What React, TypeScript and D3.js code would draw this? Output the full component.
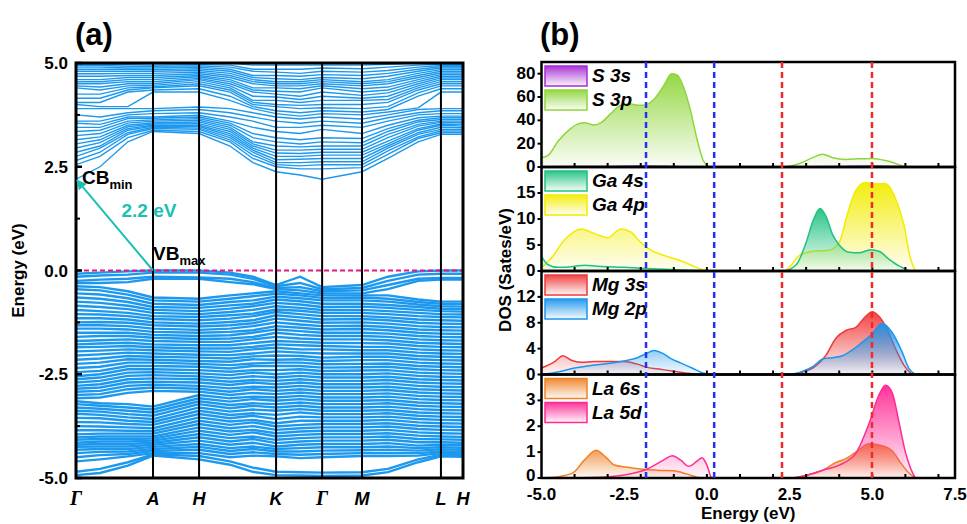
import React from 'react';
import * as d3 from 'd3';

// ---------------- Panel (a): band structure data ----------------
const kPath = [0, 0.062, 0.134, 0.199, 0.318, 0.398, 0.457, 0.517, 0.579, 0.636, 0.739, 0.806, 0.884, 0.943, 1.0];
const kTickPos = [0, 0.199, 0.318, 0.517, 0.636, 0.739, 0.943, 1.0];
const kTickLabels = ['Γ', 'A', 'H', 'K', 'Γ', 'M', 'L', 'H'];
const energyTicksA = [-5, -2.5, 0, 2.5, 5];
const energyMinorTicksA = [-3.75, -1.25, 1.25, 3.75];
const bandGap = 2.2;
const cbmK = 0;
const vbmK = 0.199;

// conduction-band eigenvalues (eV) at each k-point, ascending
const conductionBands: number[][] = [
  [2.2, 2.55, 2.65, 2.75, 2.85, 2.95, 3.05, 3.15, 3.25, 3.35, 3.45, 3.55, 3.6, 3.75, 3.9, 4.0, 4.05, 4.15, 4.25, 4.4, 4.45, 4.5, 4.55, 4.6, 4.68, 4.74, 4.8, 4.85, 4.9, 4.94, 4.97, 5.02],
  [2.5, 2.75, 2.85, 2.95, 3.0, 3.08, 3.15, 3.22, 3.3, 3.38, 3.45, 3.52, 3.6, 3.7, 3.9, 3.95, 4.05, 4.15, 4.25, 4.35, 4.42, 4.5, 4.55, 4.6, 4.68, 4.74, 4.8, 4.85, 4.9, 4.94, 4.97, 5.02],
  [3.1, 3.2, 3.28, 3.32, 3.38, 3.42, 3.46, 3.5, 3.55, 3.6, 3.66, 3.7, 3.75, 3.8, 3.9, 3.95, 4.3, 4.35, 4.4, 4.45, 4.5, 4.55, 4.6, 4.65, 4.7, 4.75, 4.8, 4.85, 4.88, 4.92, 4.96, 5.02],
  [3.35, 3.38, 3.42, 3.45, 3.48, 3.5, 3.53, 3.56, 3.6, 3.63, 3.67, 3.7, 3.78, 3.85, 3.9, 4.3, 4.35, 4.4, 4.42, 4.46, 4.5, 4.55, 4.6, 4.65, 4.7, 4.75, 4.8, 4.84, 4.88, 4.92, 4.95, 5.0],
  [3.3, 3.35, 3.4, 3.43, 3.47, 3.5, 3.54, 3.58, 3.62, 3.66, 3.7, 3.74, 3.8, 3.88, 3.94, 4.3, 4.38, 4.45, 4.5, 4.55, 4.6, 4.63, 4.67, 4.7, 4.74, 4.78, 4.82, 4.86, 4.9, 4.93, 4.96, 5.0],
  [3.0, 3.1, 3.15, 3.2, 3.25, 3.3, 3.35, 3.4, 3.45, 3.5, 3.55, 3.6, 3.7, 3.8, 3.9, 4.1, 4.2, 4.3, 4.35, 4.4, 4.45, 4.5, 4.55, 4.6, 4.65, 4.7, 4.75, 4.8, 4.85, 4.9, 4.95, 5.0],
  [2.6, 2.7, 2.78, 2.85, 2.9, 2.95, 3.0, 3.05, 3.1, 3.2, 3.3, 3.45, 3.6, 3.7, 3.8, 3.9, 3.95, 4.0, 4.05, 4.1, 4.2, 4.3, 4.35, 4.4, 4.5, 4.55, 4.6, 4.65, 4.7, 4.8, 4.85, 4.95],
  [2.38, 2.5, 2.55, 2.6, 2.67, 2.75, 2.83, 2.9, 3.0, 3.1, 3.2, 3.35, 3.45, 3.6, 3.7, 3.78, 3.85, 3.95, 4.0, 4.1, 4.18, 4.25, 4.32, 4.4, 4.45, 4.5, 4.55, 4.62, 4.7, 4.78, 4.85, 4.95],
  [2.3, 2.45, 2.52, 2.6, 2.68, 2.75, 2.82, 2.9, 2.98, 3.05, 3.15, 3.3, 3.45, 3.55, 3.65, 3.72, 3.8, 3.9, 3.98, 4.05, 4.12, 4.2, 4.3, 4.38, 4.45, 4.5, 4.55, 4.6, 4.68, 4.75, 4.85, 4.95],
  [2.2, 2.45, 2.55, 2.62, 2.7, 2.78, 2.85, 2.92, 3.0, 3.1, 3.2, 3.4, 3.5, 3.6, 3.7, 3.78, 3.85, 3.92, 4.0, 4.1, 4.2, 4.3, 4.4, 4.45, 4.5, 4.55, 4.6, 4.65, 4.72, 4.8, 4.88, 4.95],
  [2.38, 2.48, 2.55, 2.62, 2.7, 2.78, 2.85, 2.92, 3.0, 3.08, 3.18, 3.3, 3.45, 3.55, 3.65, 3.75, 3.82, 3.9, 4.0, 4.1, 4.15, 4.22, 4.3, 4.38, 4.45, 4.5, 4.55, 4.62, 4.7, 4.78, 4.86, 4.95],
  [2.7, 2.8, 2.88, 2.95, 3.0, 3.05, 3.12, 3.2, 3.28, 3.35, 3.42, 3.5, 3.6, 3.68, 3.75, 3.82, 3.88, 3.95, 4.05, 4.12, 4.2, 4.28, 4.35, 4.42, 4.5, 4.55, 4.6, 4.68, 4.75, 4.82, 4.9, 4.97],
  [3.1, 3.18, 3.22, 3.28, 3.32, 3.38, 3.42, 3.48, 3.52, 3.58, 3.62, 3.68, 3.75, 3.8, 3.88, 3.92, 4.2, 4.28, 4.35, 4.4, 4.45, 4.5, 4.55, 4.6, 4.65, 4.7, 4.75, 4.8, 4.85, 4.9, 4.95, 5.0],
  [3.28, 3.32, 3.36, 3.4, 3.45, 3.5, 3.53, 3.57, 3.6, 3.64, 3.68, 3.72, 3.78, 3.85, 3.9, 4.3, 4.38, 4.45, 4.5, 4.55, 4.6, 4.64, 4.68, 4.72, 4.76, 4.8, 4.84, 4.88, 4.91, 4.94, 4.97, 5.0],
  [3.28, 3.32, 3.36, 3.4, 3.44, 3.48, 3.52, 3.56, 3.6, 3.64, 3.68, 3.72, 3.78, 3.85, 3.9, 4.3, 4.38, 4.45, 4.5, 4.55, 4.6, 4.64, 4.68, 4.72, 4.76, 4.8, 4.84, 4.88, 4.91, 4.94, 4.97, 5.0],
];

// topmost valence bands (eV) at each k-point
const valenceTop: number[][] = [
  [-0.08, -0.15, -0.25, -0.3],
  [-0.05, -0.12, -0.22, -0.3],
  [-0.02, -0.1, -0.2, -0.28],
  [0, -0.05, -0.15, -0.2],
  [0, -0.05, -0.17, -0.2],
  [-0.05, -0.1, -0.2, -0.28],
  [-0.15, -0.2, -0.28, -0.33],
  [-0.35, -0.38, -0.42, -0.45],
  [-0.15, -0.3, -0.4, -0.48],
  [-0.4, -0.45, -0.5, -0.55],
  [-0.35, -0.42, -0.48, -0.55],
  [-0.15, -0.25, -0.35, -0.45],
  [-0.02, -0.1, -0.2, -0.25],
  [0, -0.08, -0.18, -0.22],
  [0, -0.08, -0.18, -0.22],
];

// deeper valence bands (eV) at each k-point
const valenceBands: number[][] = [
  [-0.38, -0.45, -0.55, -0.65, -0.75, -0.85, -0.95, -1.05, -1.15, -1.25, -1.32, -1.4, -1.5, -1.6, -1.7, -1.78, -1.85, -1.95, -2.05, -2.15, -2.25, -2.35, -2.45, -2.55, -2.62, -2.7, -2.78, -2.85, -2.92, -3.0, -3.08, -3.15, -3.22, -3.3, -3.38, -3.45, -3.55, -3.65, -3.75, -3.85, -3.95, -4.02, -4.08, -4.15, -4.2, -4.25, -4.32, -4.4, -4.5, -4.6, -4.85, -4.93],
  [-0.4, -0.48, -0.58, -0.68, -0.78, -0.88, -0.98, -1.06, -1.15, -1.24, -1.32, -1.4, -1.5, -1.58, -1.68, -1.76, -1.84, -1.93, -2.02, -2.12, -2.22, -2.32, -2.42, -2.5, -2.58, -2.66, -2.74, -2.82, -2.9, -2.98, -3.06, -3.2, -3.26, -3.33, -3.4, -3.48, -3.56, -3.66, -3.76, -3.85, -3.93, -4.0, -4.06, -4.12, -4.18, -4.24, -4.3, -4.37, -4.45, -4.55, -4.78, -4.88],
  [-0.5, -0.58, -0.67, -0.76, -0.85, -0.93, -1.02, -1.1, -1.18, -1.26, -1.34, -1.42, -1.5, -1.58, -1.66, -1.74, -1.82, -1.9, -1.98, -2.06, -2.14, -2.22, -2.3, -2.38, -2.46, -2.54, -2.62, -2.7, -2.78, -2.86, -2.95, -3.22, -3.3, -3.38, -3.46, -3.54, -3.62, -3.7, -3.78, -3.86, -3.93, -4.0, -4.06, -4.12, -4.18, -4.24, -4.3, -4.36, -4.42, -4.48, -4.62, -4.7],
  [-0.65, -0.72, -0.8, -0.88, -0.95, -1.02, -1.1, -1.17, -1.25, -1.32, -1.4, -1.48, -1.55, -1.62, -1.7, -1.78, -1.85, -1.92, -2.0, -2.08, -2.15, -2.22, -2.3, -2.38, -2.45, -2.52, -2.6, -2.68, -2.75, -2.82, -2.9, -3.28, -3.35, -3.42, -3.5, -3.58, -3.65, -3.72, -3.8, -3.87, -3.93, -4.0, -4.05, -4.1, -4.15, -4.2, -4.25, -4.3, -4.35, -4.4, -4.43, -4.46],
  [-0.68, -0.75, -0.83, -0.9, -0.98, -1.05, -1.12, -1.2, -1.28, -1.35, -1.43, -1.5, -1.58, -1.65, -1.72, -1.8, -1.88, -1.95, -2.03, -2.1, -2.18, -2.25, -2.32, -2.4, -2.48, -2.55, -2.62, -2.7, -2.78, -2.85, -2.92, -3.0, -3.08, -3.15, -3.22, -3.3, -3.38, -3.46, -3.54, -3.62, -3.7, -3.78, -3.86, -3.94, -4.02, -4.1, -4.18, -4.25, -4.32, -4.4, -4.47, -4.55],
  [-0.6, -0.68, -0.76, -0.84, -0.92, -1.0, -1.08, -1.16, -1.24, -1.32, -1.4, -1.48, -1.56, -1.64, -1.72, -1.8, -1.88, -1.96, -2.04, -2.12, -2.2, -2.28, -2.36, -2.44, -2.52, -2.6, -2.68, -2.76, -2.84, -2.92, -3.0, -3.08, -3.16, -3.24, -3.32, -3.4, -3.48, -3.56, -3.64, -3.72, -3.8, -3.88, -3.96, -4.04, -4.12, -4.2, -4.28, -4.35, -4.42, -4.5, -4.6, -4.68],
  [-0.55, -0.62, -0.72, -0.8, -0.86, -0.95, -1.04, -1.1, -1.2, -1.27, -1.34, -1.44, -1.5, -1.6, -1.66, -1.75, -1.84, -1.9, -2.0, -2.07, -2.14, -2.24, -2.3, -2.4, -2.46, -2.55, -2.64, -2.7, -2.8, -2.86, -2.95, -3.04, -3.1, -3.2, -3.26, -3.35, -3.44, -3.5, -3.6, -3.66, -3.75, -3.84, -3.9, -4.0, -4.06, -4.15, -4.24, -4.3, -4.38, -4.46, -4.75, -4.85],
  [-0.5, -0.56, -0.63, -0.7, -0.78, -0.86, -0.94, -1.0, -1.08, -1.16, -1.25, -1.34, -1.42, -1.5, -1.6, -1.7, -1.78, -1.86, -1.95, -2.05, -2.15, -2.22, -2.3, -2.4, -2.5, -2.58, -2.66, -2.74, -2.82, -2.9, -2.98, -3.06, -3.14, -3.22, -3.3, -3.38, -3.48, -3.58, -3.68, -3.76, -3.84, -3.92, -4.0, -4.08, -4.16, -4.24, -4.3, -4.36, -4.42, -4.48, -4.85, -4.93],
  [-0.55, -0.6, -0.67, -0.74, -0.82, -0.9, -0.97, -1.05, -1.13, -1.21, -1.3, -1.38, -1.46, -1.55, -1.64, -1.72, -1.8, -1.9, -1.98, -2.06, -2.14, -2.22, -2.3, -2.38, -2.46, -2.54, -2.62, -2.7, -2.78, -2.86, -2.94, -3.02, -3.1, -3.18, -3.26, -3.34, -3.42, -3.52, -3.62, -3.72, -3.8, -3.88, -3.96, -4.04, -4.12, -4.2, -4.28, -4.36, -4.44, -4.52, -4.86, -4.94],
  [-0.6, -0.66, -0.72, -0.8, -0.88, -0.95, -1.02, -1.1, -1.18, -1.26, -1.34, -1.42, -1.5, -1.58, -1.66, -1.74, -1.82, -1.9, -2.0, -2.1, -2.18, -2.26, -2.34, -2.42, -2.5, -2.58, -2.66, -2.74, -2.82, -2.9, -2.98, -3.06, -3.14, -3.22, -3.3, -3.38, -3.46, -3.54, -3.62, -3.7, -3.78, -3.86, -3.94, -4.02, -4.1, -4.18, -4.26, -4.34, -4.42, -4.5, -4.87, -4.95],
  [-0.6, -0.65, -0.72, -0.8, -0.87, -0.95, -1.02, -1.1, -1.17, -1.25, -1.33, -1.41, -1.5, -1.58, -1.66, -1.75, -1.84, -1.92, -2.0, -2.08, -2.16, -2.25, -2.33, -2.41, -2.5, -2.58, -2.66, -2.74, -2.82, -2.9, -2.98, -3.06, -3.14, -3.22, -3.3, -3.38, -3.46, -3.54, -3.62, -3.7, -3.78, -3.86, -3.94, -4.02, -4.1, -4.18, -4.26, -4.33, -4.4, -4.47, -4.86, -4.94],
  [-0.6, -0.68, -0.75, -0.83, -0.9, -0.98, -1.05, -1.13, -1.2, -1.28, -1.36, -1.44, -1.52, -1.6, -1.68, -1.76, -1.84, -1.92, -2.0, -2.08, -2.16, -2.24, -2.32, -2.4, -2.48, -2.56, -2.64, -2.72, -2.8, -2.88, -2.96, -3.04, -3.12, -3.2, -3.28, -3.36, -3.44, -3.52, -3.6, -3.68, -3.76, -3.84, -3.92, -4.0, -4.08, -4.16, -4.24, -4.32, -4.4, -4.47, -4.78, -4.86],
  [-0.7, -0.76, -0.82, -0.88, -0.95, -1.02, -1.1, -1.18, -1.26, -1.34, -1.42, -1.5, -1.58, -1.66, -1.74, -1.82, -1.9, -1.98, -2.06, -2.14, -2.22, -2.3, -2.38, -2.46, -2.54, -2.62, -2.7, -2.78, -2.86, -2.94, -3.02, -3.1, -3.18, -3.26, -3.34, -3.42, -3.5, -3.58, -3.66, -3.74, -3.82, -3.9, -3.98, -4.06, -4.14, -4.22, -4.28, -4.34, -4.4, -4.46, -4.55, -4.62],
  [-0.75, -0.8, -0.86, -0.92, -0.98, -1.05, -1.12, -1.2, -1.28, -1.36, -1.44, -1.52, -1.6, -1.68, -1.76, -1.84, -1.92, -2.0, -2.08, -2.16, -2.24, -2.32, -2.4, -2.48, -2.56, -2.64, -2.72, -2.8, -2.88, -2.96, -3.04, -3.12, -3.2, -3.28, -3.36, -3.44, -3.52, -3.6, -3.68, -3.76, -3.84, -3.92, -4.0, -4.07, -4.14, -4.2, -4.26, -4.31, -4.36, -4.4, -4.44, -4.48],
  [-0.75, -0.81, -0.87, -0.93, -0.99, -1.06, -1.13, -1.21, -1.29, -1.37, -1.45, -1.53, -1.61, -1.69, -1.77, -1.85, -1.93, -2.01, -2.09, -2.17, -2.25, -2.33, -2.41, -2.49, -2.57, -2.65, -2.73, -2.81, -2.89, -2.97, -3.05, -3.13, -3.21, -3.29, -3.37, -3.45, -3.53, -3.61, -3.69, -3.77, -3.85, -3.93, -4.01, -4.08, -4.15, -4.21, -4.27, -4.32, -4.37, -4.41, -4.45, -4.49],
];

// ---------------- Panel (b): PDOS data ----------------
const dosEnergyTicks = [-5, -2.5, 0, 2.5, 5, 7.5];
const dosMinorEnergyTicks = [-4, -3, -2, -1, 0, 1, 2, 3, 4, 5, 6, 7];
const dosPanelMax = [90, 20, 16, 4];
const dosPanelTicks = [[0, 20, 40, 60, 80], [0, 5, 10, 15], [0, 4, 8, 12], [0, 1, 2, 3]];
const vbEdgeLines = [-1.84, 0.22];
const cbEdgeLines = [2.27, 4.99];

const eS3s = [-5, -3, -1.9, -1, 0, 2.3, 4, 5, 5.8, 6.2];
const dS3s = [0.3, 0.5, 0.8, 0.4, 0, 0, 0.4, 0.9, 0.5, 0];
const eS3p = [-5, -4.8, -4.5, -4.2, -3.9, -3.7, -3.4, -3.2, -2.9, -2.6, -2.3, -2.1, -1.9, -1.6, -1.3, -1.07, -0.9, -0.7, -0.5, -0.3, -0.1, 0.1, 2.3, 2.8, 3.2, 3.5, 3.8, 4.2, 4.6, 5.0, 5.4, 5.8, 6.0];
const dS3p = [8, 10, 22, 31, 37, 38, 36, 38, 46, 53, 54, 53, 53, 58, 70, 80, 79, 68, 49, 24, 5, 0, 0, 3, 8, 11, 8, 6.5, 7, 7.3, 5.5, 2, 0];
const eGa4s = [-5, -4.8, -4.5, -4.0, -3.7, -3.3, -2.5, -1.5, -0.5, 0.2, 2.3, 2.7, 3.0, 3.2, 3.42, 3.6, 3.8, 4.0, 4.3, 4.6, 4.95, 5.2, 5.5, 5.8, 6.1, 6.2];
const dGa4s = [2.8, 1.2, 0.7, 0.9, 1.1, 0.9, 0.7, 0.4, 0.15, 0, 0, 1.2, 5.5, 9.5, 12, 10.5, 7, 5, 3.6, 3.5, 4.1, 3.8, 2.3, 1, 0.1, 0];
const eGa4p = [-5, -4.7, -4.3, -3.8, -3.4, -3.0, -2.6, -2.3, -2.0, -1.7, -1.3, -0.9, -0.5, -0.2, 0.1, 2.3, 2.5, 2.8, 3.2, 3.7, 4.0, 4.25, 4.5, 4.8, 5.1, 5.4, 5.7, 5.95, 6.15, 6.3];
const dGa4p = [0.7, 2.5, 6, 8.1, 7.2, 6.4, 8.1, 7.5, 5.5, 4, 3, 2.2, 1.2, 0.4, 0, 0, 0.8, 3, 3.8, 4, 5.5, 11, 15.5, 17, 16.8, 16.8, 14, 9, 2.5, 0];
const eMg3s = [-5, -4.6, -4.35, -4.1, -3.8, -3.4, -3.0, -2.5, -2.1, -1.8, -1.4, -1.0, -0.5, 0, 2.5, 2.9, 3.2, 3.6, 3.9, 4.2, 4.5, 4.8, 5.0, 5.2, 5.45, 5.7, 5.95, 6.2];
const dMg3s = [1.0, 2.0, 2.9, 2.2, 1.9, 2.0, 2.0, 2.0, 1.6, 1.1, 0.8, 0.5, 0.15, 0, 0, 0.4, 1.0, 3.0, 5.6, 6.8, 7.3, 9.0, 9.7, 9.0, 7, 4, 1.5, 0];
const eMg2p = [-5, -4.5, -4.0, -3.5, -3.0, -2.5, -2.1, -1.85, -1.6, -1.35, -1.1, -0.8, -0.45, -0.1, 0.1, 2.5, 2.9, 3.2, 3.5, 3.8, 4.1, 4.4, 4.7, 5.0, 5.3, 5.6, 5.9, 6.1, 6.3];
const dMg2p = [0, 0.4, 1.0, 1.4, 1.7, 2.1, 2.6, 3.2, 3.7, 3.3, 2.5, 1.8, 1.0, 0.2, 0, 0, 0.5, 1.2, 2.4, 2.6, 2.9, 3.8, 5.0, 6.3, 7.9, 6.5, 3.5, 1, 0];
const eLa6s = [-5, -4.5, -4.05, -3.7, -3.35, -3.05, -2.8, -2.4, -2.0, -1.5, -1.0, -0.6, -0.25, 0, 2.5, 3.0, 3.5, 3.9, 4.2, 4.5, 4.9, 5.3, 5.6, 5.85, 6.1, 6.3];
const dLa6s = [0, 0.05, 0.2, 0.7, 1.07, 0.8, 0.5, 0.42, 0.35, 0.3, 0.28, 0.15, 0.02, 0, 0, 0.1, 0.3, 0.6, 0.75, 1.0, 1.32, 1.25, 1.05, 0.6, 0.2, 0];
const eLa5d = [-5, -3.5, -2.5, -1.8, -1.3, -1.05, -0.8, -0.55, -0.3, -0.15, 0.0, 0.15, 2.5, 3.0, 3.5, 4.0, 4.5, 4.9, 5.2, 5.4, 5.6, 5.8, 6.0, 6.15, 6.3];
const dLa5d = [0, 0.02, 0.12, 0.35, 0.7, 0.86, 0.7, 0.45, 0.65, 0.78, 0.5, 0, 0, 0.1, 0.3, 0.5, 0.95, 2.1, 3.2, 3.58, 3.3, 2.2, 1.0, 0.4, 0];

const dosSeries = [
  { name: 'S 3p', panel: 0, color: '#8fd63a', E: eS3p, D: dS3p, legend: 1 },
  { name: 'S 3s', panel: 0, color: '#a62bd6', E: eS3s, D: dS3s, legend: 0 },
  { name: 'Ga 4p', panel: 1, color: '#f2ec00', E: eGa4p, D: dGa4p, legend: 1 },
  { name: 'Ga 4s', panel: 1, color: '#1fc280', E: eGa4s, D: dGa4s, legend: 0 },
  { name: 'Mg 3s', panel: 2, color: '#f03a3a', E: eMg3s, D: dMg3s, legend: 0 },
  { name: 'Mg 2p', panel: 2, color: '#1c95ec', E: eMg2p, D: dMg2p, legend: 1 },
  { name: 'La 6s', panel: 3, color: '#f08228', E: eLa6s, D: dLa6s, legend: 0 },
  { name: 'La 5d', panel: 3, color: '#ff2a95', E: eLa5d, D: dLa5d, legend: 1 },
];

const FONT = "'Liberation Sans', Arial, Helvetica, sans-serif";
const BAND_COLOR = '#1c98ee';
const ARROW_COLOR = '#1cbfb4';

export default function App() {
  // ----- Panel (a) layout & scales -----
  const A = { left: 76, right: 463, top: 63, bottom: 478 };
  const xA = d3.scaleLinear().domain([0, 1]).range([A.left, A.right]);
  const yA = d3.scaleLinear().domain([-5, 5]).range([A.bottom, A.top]);
  const bandLine = d3.line<[number, number]>().x((d) => xA(d[0])).y((d) => yA(d[1]));

  const nC = d3.min(conductionBands, (r) => r.length) as number;
  const nT = d3.min(valenceTop, (r) => r.length) as number;
  const nV = d3.min(valenceBands, (r) => r.length) as number;
  const condPaths: string[] = [];
  const valPaths: string[] = [];
  for (let i = 0; i < nC; i++) condPaths.push(bandLine(kPath.map((k, j) => [k, conductionBands[j][i]])) as string);
  for (let i = 0; i < nT; i++) valPaths.push(bandLine(kPath.map((k, j) => [k, valenceTop[j][i]])) as string);
  for (let i = 0; i < nV; i++) valPaths.push(bandLine(kPath.map((k, j) => [k, valenceBands[j][i]])) as string);

  // ----- Panel (b) layout & scales -----
  const B = { left: 541.5, right: 955 };
  const panelEdges = [62, 167, 271, 374.5, 478];
  const xB = d3.scaleLinear().domain([-5, 7.5]).range([B.left, B.right]);
  const yB = dosPanelMax.map((m, p) => d3.scaleLinear().domain([0, m]).range([panelEdges[p + 1], panelEdges[p]]));

  const vx1 = xA(vbmK), vy1 = yA(0), cx = xA(cbmK), cy = yA(bandGap);

  return (
    <svg width={967} height={524} style={{ position: 'absolute', left: 0, top: 0, background: '#fff' }} fontFamily={FONT}>
      <defs>
        <clipPath id="clipA">
          <rect x={A.left} y={A.top} width={A.right - A.left} height={A.bottom - A.top} />
        </clipPath>
        {dosPanelMax.map((_, p) => (
          <clipPath id={`clipB${p}`} key={p}>
            <rect x={B.left} y={panelEdges[p]} width={B.right - B.left} height={panelEdges[p + 1] - panelEdges[p]} />
          </clipPath>
        ))}
        {dosSeries.map((s, i) => (
          <linearGradient id={`grad${i}`} key={i} x1="0" y1="0" x2="0" y2="1">
            <stop offset="0" stopColor={s.color} stopOpacity={0.95} />
            <stop offset="1" stopColor={s.color} stopOpacity={0.04} />
          </linearGradient>
        ))}
        <marker id="arrowHead" viewBox="0 0 10 10" refX="9" refY="5" markerWidth="5" markerHeight="5" orient="auto-start-reverse" markerUnits="strokeWidth">
          <path d="M0,0 L10,5 L0,10 z" fill={ARROW_COLOR} />
        </marker>
      </defs>

      {/* ================= Panel (a) ================= */}
      <text x={A.left - 1} y={45} fontSize={31} fontWeight="bold">(a)</text>
      <g clipPath="url(#clipA)">
        {condPaths.map((d, i) => (
          <path key={`c${i}`} d={d} fill="none" stroke={BAND_COLOR} strokeWidth={1.4} />
        ))}
        {valPaths.map((d, i) => (
          <path key={`v${i}`} d={d} fill="none" stroke={BAND_COLOR} strokeWidth={2.4} />
        ))}
      </g>
      <line x1={A.left} x2={A.right} y1={yA(0)} y2={yA(0)} stroke="#e8157c" strokeWidth={2} strokeDasharray="5,3" />
      {kTickPos.map((k, i) => (
        <line key={i} x1={xA(k)} x2={xA(k)} y1={A.top} y2={A.bottom} stroke="#000" strokeWidth={2} />
      ))}
      <rect x={A.left} y={A.top} width={A.right - A.left} height={A.bottom - A.top} fill="none" stroke="#000" strokeWidth={3} />
      {energyTicksA.map((t) => (
        <g key={t}>
          <line x1={A.left} x2={A.left + 6} y1={yA(t)} y2={yA(t)} stroke="#000" strokeWidth={2.5} />
          <text x={A.left - 8} y={yA(t) + 6} fontSize={17} fontWeight="bold" textAnchor="end">{t.toFixed(1)}</text>
        </g>
      ))}
      {energyMinorTicksA.map((t) => (
        <line key={t} x1={A.left} x2={A.left + 4} y1={yA(t)} y2={yA(t)} stroke="#000" strokeWidth={2} />
      ))}
      {kTickLabels.map((l, i) => (
        <text key={i} x={xA(kTickPos[i])} y={505} fontSize={l === 'Γ' ? 20 : 18} fontWeight="bold" fontStyle="italic" textAnchor="middle"
          fontFamily={l === 'Γ' ? "'Liberation Serif', 'Times New Roman', serif" : FONT}>{l}</text>
      ))}
      <text transform={`translate(24,${(A.top + A.bottom) / 2}) rotate(-90)`} fontSize={17} fontWeight="bold" textAnchor="middle">Energy (eV)</text>

      {/* gap arrow */}
      <line x1={vx1} y1={vy1} x2={cx + 1} y2={cy + 1} stroke={ARROW_COLOR} strokeWidth={2} markerEnd="url(#arrowHead)" />
      <text x={cx + 6} y={cy + 5} fontSize={19} fontWeight="bold">CB<tspan fontSize={13} dy={5}>min</tspan></text>
      <text x={vx1} y={vy1 - 11} fontSize={19} fontWeight="bold">VB<tspan fontSize={13} dy={5}>max</tspan></text>
      <text x={(cx + vx1) / 2 + 7} y={(cy + vy1) / 2 - 8} fontSize={19} fontWeight="bold" fill={ARROW_COLOR}>{`${bandGap} eV`}</text>

      {/* ================= Panel (b) ================= */}
      <text x={540} y={45} fontSize={31} fontWeight="bold">(b)</text>
      {dosPanelMax.map((_, p) => {
        const ys = yB[p];
        return (
          <g key={p}>
            <g clipPath={`url(#clipB${p})`}>
              {dosSeries.map((s, si) => {
                if (s.panel !== p) return null;
                const pts = s.E.map((e, i) => [e, s.D[i]] as [number, number]);
                const ar = d3.area<[number, number]>().x((d) => xB(d[0])).y0(ys(0)).y1((d) => ys(d[1])).curve(d3.curveMonotoneX);
                const ln = d3.line<[number, number]>().x((d) => xB(d[0])).y((d) => ys(d[1])).curve(d3.curveMonotoneX);
                return (
                  <g key={si}>
                    <path d={ar(pts) as string} fill={`url(#grad${si})`} />
                    <path d={ln(pts) as string} fill="none" stroke={s.color} strokeWidth={1.5} />
                  </g>
                );
              })}
            </g>
            <rect x={B.left} y={panelEdges[p]} width={B.right - B.left} height={panelEdges[p + 1] - panelEdges[p]} fill="none" stroke="#000" strokeWidth={2.5} />
            {dosPanelTicks[p].map((t) => (
              <g key={t}>
                <line x1={B.left - 4} x2={B.left} y1={ys(t)} y2={ys(t)} stroke="#000" strokeWidth={2} />
                <text x={B.left - 6} y={ys(t) + (p === 3 && t === 0 ? 3 : 5)} fontSize={17} fontWeight="bold" textAnchor="end">{t}</text>
              </g>
            ))}
            {dosMinorEnergyTicks.map((t) => (
              <line key={t} x1={xB(t)} x2={xB(t)} y1={panelEdges[p + 1]} y2={panelEdges[p + 1] - 4} stroke="#000" strokeWidth={2} />
            ))}
            {dosSeries.filter((s) => s.panel === p).map((s) => {
              const si = dosSeries.indexOf(s);
              const by = panelEdges[p] + 4 + s.legend * 24;
              return (
                <g key={s.name}>
                  <rect x={545} y={by} width={42} height={20} fill={`url(#grad${si})`} stroke={s.color} strokeWidth={1.5} />
                  <text x={592} y={by + 16} fontSize={19} fontWeight="bold" fontStyle="italic">{s.name}</text>
                </g>
              );
            })}
          </g>
        );
      })}
      {vbEdgeLines.map((e) => (
        <line key={e} x1={xB(e)} x2={xB(e)} y1={panelEdges[0]} y2={panelEdges[4]} stroke="#2233f0" strokeWidth={2.5} strokeDasharray="6,4" />
      ))}
      {cbEdgeLines.map((e) => (
        <line key={e} x1={xB(e)} x2={xB(e)} y1={panelEdges[0]} y2={panelEdges[4]} stroke="#f02a2a" strokeWidth={2.5} strokeDasharray="6,4" />
      ))}
      {dosEnergyTicks.map((t) => (
        <text key={t} x={xB(t)} y={500} fontSize={17} fontWeight="bold" textAnchor="middle">{t.toFixed(1)}</text>
      ))}
      <text x={(B.left + B.right) / 2} y={519} fontSize={17} fontWeight="bold" textAnchor="middle">Energy (eV)</text>
      <text transform={`translate(511,${(panelEdges[0] + panelEdges[4]) / 2}) rotate(-90)`} fontSize={17} fontWeight="bold" textAnchor="middle">DOS (Sates/eV)</text>
    </svg>
  );
}
